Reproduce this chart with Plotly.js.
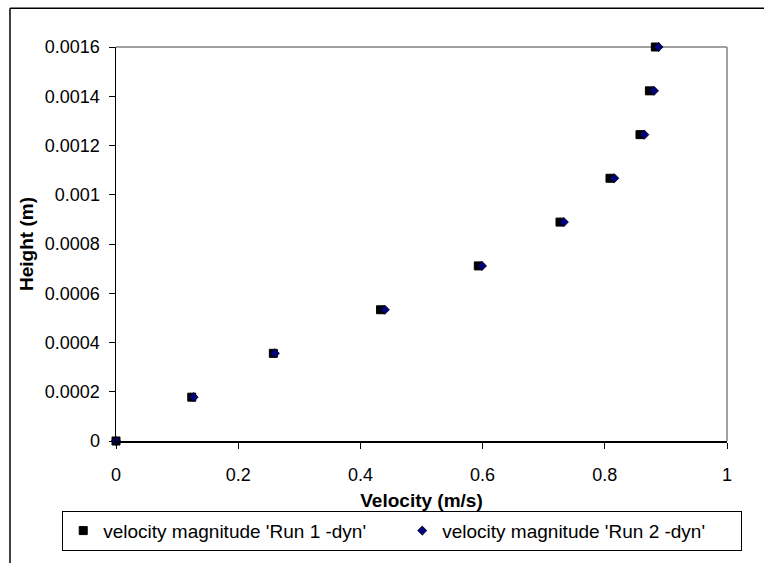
<!DOCTYPE html>
<html>
<head>
<meta charset="utf-8">
<script src="https://cdn.plot.ly/plotly-3.0.1.min.js"></script>
<style>
  html, body { margin: 0; padding: 0; background: #fff; }
  #chart { width: 764px; height: 563px; }
</style>
</head>
<body>
<div id="chart"></div>
<script>
// Height values (m)
var heights = [0, 0.000178, 0.000356, 0.000533, 0.000711, 0.000889, 0.001067, 0.001244, 0.001422, 0.0016];
// Run 1 velocity magnitude (m/s)
var run1Velocity = [0, 0.124, 0.2575, 0.433, 0.593, 0.7267, 0.8085, 0.8576, 0.873, 0.8827];
// Run 2 velocity magnitude (m/s)
var run2Velocity = [0, 0.127, 0.260, 0.440, 0.599, 0.733, 0.8156, 0.8647, 0.8805, 0.888];

var run1Name = "velocity magnitude 'Run 1 -dyn'";
var run2Name = "velocity magnitude 'Run 2 -dyn'";

var xTicks = [0, 0.2, 0.4, 0.6, 0.8, 1];
var xTickText = ['0', '0.2', '0.4', '0.6', '0.8', '1'];
var yTicks = [0, 0.0002, 0.0004, 0.0006, 0.0008, 0.001, 0.0012, 0.0014, 0.0016];
var yTickText = ['0', '0.0002', '0.0004', '0.0006', '0.0008', '0.001', '0.0012', '0.0014', '0.0016'];

var font = 'Liberation Sans, Arial, sans-serif';

var traces = [
  {
    x: run1Velocity, y: heights, name: run1Name, type: 'scatter', mode: 'markers',
    marker: { symbol: 'square', size: 8, color: '#000000', line: { color: '#000000', width: 1 } },
    cliponaxis: false
  },
  {
    x: run2Velocity, y: heights, name: run2Name, type: 'scatter', mode: 'markers',
    marker: { symbol: 'diamond', size: 7, color: '#000080', line: { color: '#000000', width: 0.8 } },
    cliponaxis: false
  }
];

var layout = {
  width: 764, height: 563,
  margin: { l: 116, r: 37, t: 47, b: 110 },
  paper_bgcolor: '#ffffff', plot_bgcolor: '#ffffff',
  font: { family: font, size: 18, color: '#000000' },
  showlegend: true,
  xaxis: {
    range: [0, 1], tickvals: xTicks, ticktext: xTickText,
    showgrid: false, zeroline: false, showline: true, linecolor: '#000000', linewidth: 1.5,
    ticks: 'outside', ticklen: 6, tickcolor: '#000000', tickwidth: 1,
    ticklabelstandoff: 11,
    tickfont: { family: font, size: 18, color: '#000000' },
    title: { text: '<b>Velocity (m/s)</b>', font: { family: font, size: 19, color: '#000000' }, standoff: 9 },
    fixedrange: true
  },
  yaxis: {
    range: [0, 0.0016], tickvals: yTicks, ticktext: yTickText,
    showgrid: false, zeroline: false, showline: true, linecolor: '#000000', linewidth: 1.5,
    ticks: 'outside', ticklen: 6, tickcolor: '#000000', tickwidth: 1,
    ticklabelstandoff: 5,
    tickfont: { family: font, size: 18, color: '#000000' },
    title: { text: '<b>Height (m)</b>', font: { family: font, size: 19, color: '#000000' }, standoff: 6 },
    fixedrange: true
  },
  legend: {
    orientation: 'h', xanchor: 'left', x: -0.088, yanchor: 'top', y: -0.177,
    bordercolor: '#000000', borderwidth: 1, bgcolor: '#ffffff',
    font: { family: font, size: 19, color: '#000000' },
    entrywidth: 294, itemwidth: 30, traceorder: 'normal'
  },
  shapes: [
    { type: 'line', xref: 'paper', yref: 'paper', x0: 0, x1: 1, y0: 1, y1: 1, line: { color: '#808080', width: 1.5 }, layer: 'below' },
    { type: 'line', xref: 'paper', yref: 'paper', x0: 1, x1: 1, y0: 0, y1: 1, line: { color: '#808080', width: 1.5 }, layer: 'below' },
    { type: 'line', xref: 'paper', yref: 'paper', x0: -0.1735, x1: 1.2, y0: 1.0985, y1: 1.0985, line: { color: '#000000', width: 1.5 } },
    { type: 'line', xref: 'paper', yref: 'paper', x0: -0.1735, x1: -0.1735, y0: -0.4, y1: 1.0985, line: { color: '#000000', width: 1.5 } }
  ]
};

Plotly.newPlot('chart', traces, layout, { displayModeBar: false, staticPlot: true });
</script>
</body>
</html>
